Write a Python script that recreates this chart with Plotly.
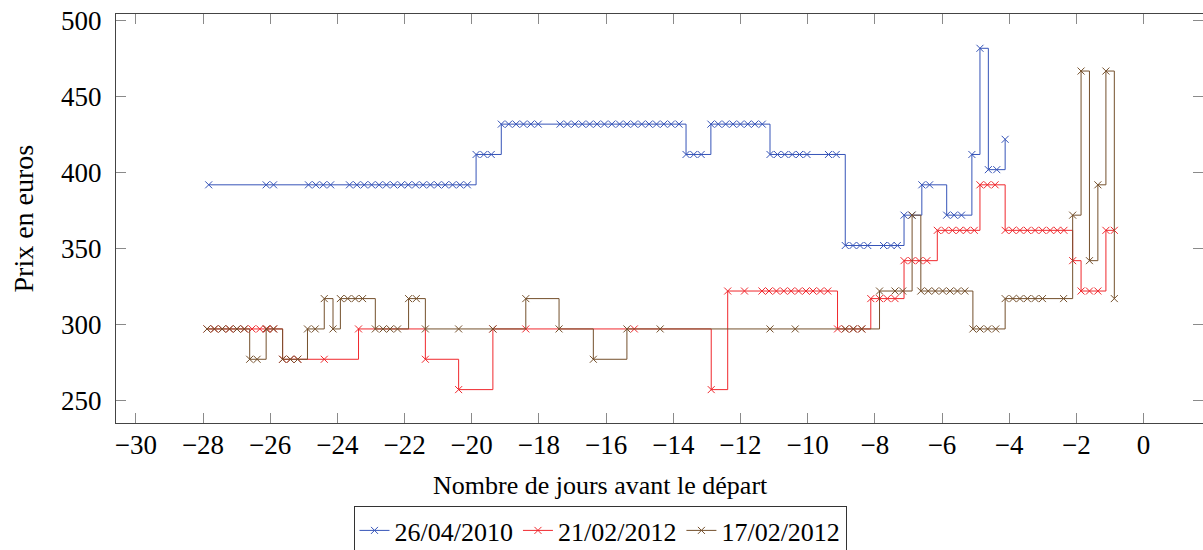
import plotly.graph_objects as go

# ---- data (days before departure, price in euros) ----
blue_x = [-27.83, -26.12, -25.90, -24.86, -24.64, -24.42, -24.20,
          -23.64, -23.42, -23.20, -22.98, -22.76, -22.54, -22.32, -22.10, -21.89,
          -21.67, -21.45, -21.23, -21.01, -20.79, -20.57, -20.35, -20.13,
          -19.87, -19.64, -19.42,
          -19.12, -18.90, -18.68, -18.46, -18.24, -18.02,
          -17.37, -17.15, -16.93, -16.71, -16.49, -16.27, -16.05, -15.83, -15.60,
          -15.38, -15.16, -14.94, -14.72, -14.50, -14.28, -14.06, -13.83,
          -13.62, -13.39, -13.17,
          -12.88, -12.66, -12.44, -12.22, -12.00, -11.78, -11.57, -11.35,
          -11.12, -10.90, -10.68, -10.46, -10.24, -10.02, -9.38, -9.15,
          -8.88, -8.65, -8.44, -8.21, -7.74, -7.52, -7.33,
          -7.13, -6.90,
          -6.60, -6.37,
          -5.86, -5.64, -5.42,
          -5.11, -4.87, -4.62, -4.37, -4.12]
blue_y = [392, 392, 392, 392, 392, 392, 392,
          392, 392, 392, 392, 392, 392, 392, 392, 392,
          392, 392, 392, 392, 392, 392, 392, 392,
          412, 412, 412,
          432, 432, 432, 432, 432, 432,
          432, 432, 432, 432, 432, 432, 432, 432, 432,
          432, 432, 432, 432, 432, 432, 432, 432,
          412, 412, 412,
          432, 432, 432, 432, 432, 432, 432, 432,
          412, 412, 412, 412, 412, 412, 412, 412,
          352, 352, 352, 352, 352, 352, 352,
          372, 372,
          392, 392,
          372, 372, 372,
          412, 482, 402, 402, 422]

red_x = [-27.88, -27.66, -27.43, -27.21, -26.99, -26.77, -26.54, -26.31, -26.09, -25.90,
         -25.63, -25.40, -25.18, -24.39,
         -23.37,
         -21.38,
         -20.39,
         -19.37, -18.39, -15.16,
         -12.87,
         -12.38, -11.88, -11.36, -11.15, -10.93, -10.71, -10.49, -10.27, -10.05, -9.84, -9.62, -9.40,
         -9.11, -8.88, -8.64, -8.39,
         -8.12, -7.86, -7.63, -7.40,
         -7.13, -6.90, -6.68, -6.45,
         -6.14, -5.91, -5.69, -5.47, -5.26, -5.04,
         -4.87, -4.65, -4.42,
         -4.12, -3.90, -3.68, -3.46, -3.23, -3.01, -2.78, -2.57, -2.37,
         -2.11,
         -1.86, -1.61, -1.36,
         -1.12, -0.87]
red_y = [297, 297, 297, 297, 297, 297, 297, 297, 297, 297,
         277, 277, 277, 277,
         297,
         277,
         257,
         297, 297, 297,
         257,
         322, 322, 322, 322, 322, 322, 322, 322, 322, 322, 322, 322,
         297, 297, 297, 297,
         317, 317, 317, 317,
         342, 342, 342, 342,
         362, 362, 362, 362, 362, 362,
         392, 392, 392,
         362, 362, 362, 362, 362, 362, 362, 362, 362,
         342,
         322, 322, 322,
         362, 362]

brown_x = [-27.88, -27.66, -27.43, -27.21, -26.99, -26.77,
           -26.61, -26.39,
           -26.12, -25.90,
           -25.63, -25.40, -25.18,
           -24.89, -24.66,
           -24.39,
           -24.13,
           -23.91, -23.69, -23.47, -23.25,
           -22.87, -22.64, -22.43, -22.21,
           -21.88, -21.65,
           -21.38, -20.39, -19.37,
           -18.39,
           -17.40,
           -16.38,
           -15.38, -14.39, -11.12, -10.37, -8.88, -8.64, -8.39,
           -7.86, -7.40, -7.17,
           -6.89,
           -6.63, -6.41, -6.20, -5.98, -5.76, -5.54, -5.32,
           -5.08, -4.87, -4.64, -4.40,
           -4.12, -3.89, -3.68, -3.46, -3.23, -3.01, -2.38,
           -2.11, -1.86, -1.61, -1.36, -1.12, -0.87]
brown_y = [297, 297, 297, 297, 297, 297,
           277, 277,
           297, 297,
           277, 277, 277,
           297, 297,
           317,
           297,
           317, 317, 317, 317,
           297, 297, 297, 297,
           317, 317,
           297, 297, 297,
           317,
           297,
           277,
           297, 297, 297, 297, 297, 297, 297,
           322, 322, 322,
           372,
           322, 322, 322, 322, 322, 322, 322,
           297, 297, 297, 297,
           317, 317, 317, 317, 317, 317, 317,
           372, 467, 342, 392, 467, 317]

series_names = ["26/04/2010", "21/02/2012", "17/02/2012"]
series_colors = ["#3654b8", "#f0282d", "#74502c"]

x_ticks = [-30, -28, -26, -24, -22, -20, -18, -16, -14, -12, -10, -8, -6, -4, -2, 0]
y_ticks = [250, 300, 350, 400, 450, 500]
y_range = [235.0, 504.6]

FONT = "Liberation Serif, DejaVu Serif, serif"

fig = go.Figure()
for xs, ys, name, col in zip([blue_x, red_x, brown_x], [blue_y, red_y, brown_y],
                             series_names, series_colors):
    fig.add_trace(go.Scatter(
        x=xs, y=ys, name=name, mode="lines+markers",
        line=dict(color=col, width=1, shape="hv"),
        marker=dict(symbol="x-thin", size=7, color=col,
                    line=dict(color=col, width=1)),
    ))
# empty helper trace so the right-hand tick axis is drawn (ticks only, the frame is cut off)
fig.add_trace(go.Scatter(x=[None], y=[None], yaxis="y2", showlegend=False,
                         hoverinfo="skip"))

W, H = 1203, 550
L, R, T, B = 116, 0, 14, 127
PB = 422.7  # bottom of plot area in px
PH = PB - T

tick_style = dict(ticks="inside", ticklen=10, tickcolor="#8a8a8a", tickwidth=1,
                  tickfont=dict(family=FONT, size=27, color="black"))

fig.update_layout(
    width=W, height=H,
    margin=dict(l=L, r=R, t=T, b=B, pad=0, autoexpand=False),
    paper_bgcolor="white", plot_bgcolor="white",
    font=dict(family=FONT, size=26, color="black"),
    showlegend=True,
    legend=dict(orientation="h", xref="container", yref="container",
                x=600 / W, xanchor="center",
                y=1 - 506 / H, yanchor="top",
                bordercolor="#333333", borderwidth=1, bgcolor="white",
                font=dict(family=FONT, size=26, color="black"),
                itemwidth=30, tracegroupgap=0),
    xaxis=dict(range=[-30.59, 1.77], tickvals=x_ticks, showgrid=False, zeroline=False,
               showline=True, linecolor="#444444", linewidth=1, mirror="ticks",
               ticklabelstandoff=-2, **tick_style),
    yaxis=dict(range=y_range, tickvals=y_ticks, showgrid=False, zeroline=False,
               showline=True, linecolor="#444444", linewidth=1, mirror=False,
               ticklabelstandoff=8, **tick_style),
    yaxis2=dict(range=y_range, tickvals=y_ticks, overlaying="y", side="right",
                showgrid=False, zeroline=False, showline=False,
                showticklabels=False, ticks="inside", ticklen=10,
                tickcolor="#8a8a8a", tickwidth=1),
    annotations=[
        dict(text="Nombre de jours avant le départ", xref="paper", yref="paper",
             x=(600 - L) / (W - L), y=-(485 - PB) / PH,
             xanchor="center", yanchor="middle", showarrow=False,
             font=dict(family=FONT, size=26, color="black")),
        dict(text="Prix en euros", xref="paper", yref="paper",
             x=(23 - L) / (W - L), y=0.5, textangle=-90,
             xanchor="center", yanchor="middle", showarrow=False,
             font=dict(family=FONT, size=28, color="black")),
    ],
)

fig.write_html("out.html")
